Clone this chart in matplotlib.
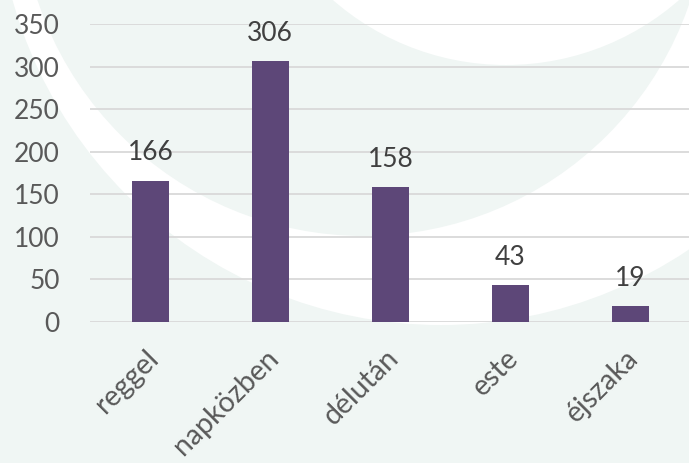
import matplotlib
matplotlib.use("Agg")
import matplotlib.pyplot as plt
from matplotlib.patches import Circle
import matplotlib.transforms as mtransforms

categories = ["reggel", "napközben", "délután", "este", "éjszaka"]
values = [166, 306, 158, 43, 19]
yticks = [0, 50, 100, 150, 200, 250, 300, 350]

MINT = "#f0f6f4"
BAR = "#5d4778"

plt.rcParams['font.family'] = ['Lato', 'DejaVu Sans']

fig = plt.figure(figsize=(6.89, 4.63), dpi=100)
fig.patch.set_facecolor(MINT)

# decorative background (pixel coordinates, y downwards)
bg = fig.add_axes([0, 0, 1, 1], zorder=0)
bg.set_xlim(0, 689)
bg.set_ylim(463, 0)
bg.axis("off")
bg.add_patch(Circle((441, -120), 445, facecolor="white", edgecolor="none"))
bg.add_patch(Circle((364, -108), 344, facecolor=MINT, edgecolor="none"))
bg.add_patch(Circle((506, -198), 263, facecolor="white", edgecolor="none"))

ax = fig.add_axes([90.3 / 689, 141 / 463, 600 / 689, 298 / 463], zorder=1)
ax.patch.set_alpha(0)
x = range(len(categories))
bars = ax.bar(x, values, width=0.313, color=BAR, zorder=3)
ax.set_xlim(-0.5, 4.5)
ax.set_ylim(0, 350)
ax.set_yticks(yticks)
ax.yaxis.grid(True, color="#d9d9d9", linewidth=1.3, zorder=0)
ax.set_axisbelow(True)
for s in ax.spines.values():
    s.set_visible(False)
ax.tick_params(axis="y", length=0, pad=22, labelsize=19, labelcolor="#595959")
ax.tick_params(axis="x", length=0, pad=23, labelsize=20.5, labelcolor="#595959")
ax.set_xticks(list(x))
ax.set_xticklabels(categories, rotation=45, ha="right", va="center", rotation_mode="anchor")
offset = mtransforms.ScaledTranslation(4 / 100, 0, fig.dpi_scale_trans)
for lbl in ax.get_xticklabels():
    lbl.set_transform(lbl.get_transform() + offset)

for xi, v in zip(x, values):
    ax.annotate(str(v), (xi, v), xytext=(0, 11), textcoords="offset points",
                ha="center", va="bottom", fontsize=19, color="#404040")

fig.savefig("out.png", dpi=100, facecolor=fig.get_facecolor())
